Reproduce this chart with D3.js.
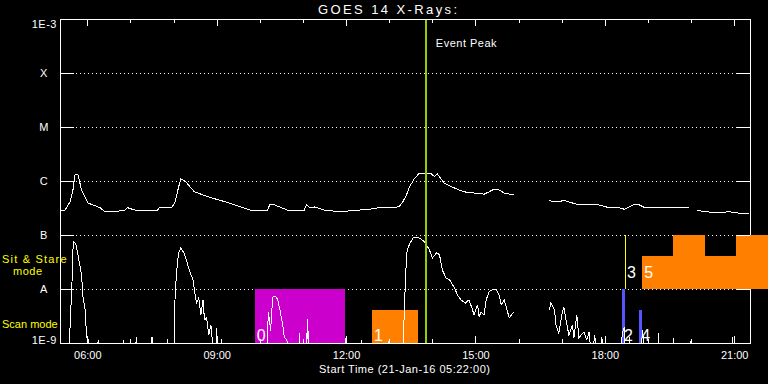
<!DOCTYPE html>
<html>
<head>
<meta charset="utf-8">
<script src="https://cdn.jsdelivr.net/npm/d3@7"></script>
<style>
    body { margin: 0; background: #000; }
    svg { display: block; background: #000; }
    text { font-family: "Liberation Sans", Arial, sans-serif; fill: #fff; }
</style>
</head>
<body>
<div id="chart"></div>
<script>
var chartDate = "2016-01-21";
var startTime = "05:22";
var endTime = "21:22";
var peakTime = "13:51";

var classLabels = ["1E-9", "A", "B", "C", "M", "X", "1E-3"];
var classFlux = [1e-9, 1e-8, 1e-7, 1e-6, 1e-5, 1e-4, 1e-3];

// GOES 1-8 A channel, W/m^2 (null = data gap)
var longChannel = [
    ["05:23", 2.8e-7], ["05:29", 2.9e-7], ["05:36", 4.1e-7], ["05:40", 6.8e-7], ["05:43", 1.3e-6],
    ["05:47", 1.3e-6], ["05:52", 6.8e-7], ["06:01", 3.9e-7], ["06:18", 3.2e-7], ["06:24", 2.7e-7],
    ["06:38", 2.7e-7], ["06:52", 2.9e-7], ["06:56", 3.2e-7], ["07:06", 2.9e-7], ["07:38", 2.9e-7],
    ["07:41", 3.3e-7], ["07:58", 3.3e-7], ["08:02", 4.1e-7], ["08:06", 6.8e-7], ["08:10", 1.1e-6],
    ["08:16", 1.0e-6], ["08:29", 6.3e-7], ["08:50", 5.0e-7], ["09:18", 3.9e-7], ["09:46", 2.9e-7],
    ["10:11", 2.9e-7], ["10:14", 3.7e-7], ["10:21", 3.6e-7], ["10:30", 3.2e-7], ["10:41", 2.8e-7],
    ["10:55", 2.8e-7], ["11:02", 2.9e-7], ["11:05", 3.7e-7], ["11:09", 3.2e-7], ["11:16", 3.3e-7],
    ["11:30", 2.9e-7], ["11:51", 2.7e-7], ["12:05", 2.8e-7], ["12:19", 2.9e-7], ["12:33", 3.0e-7],
    ["12:46", 3.2e-7], ["13:07", 3.2e-7], ["13:14", 3.4e-7], ["13:18", 3.9e-7], ["13:24", 5.5e-7],
    ["13:28", 7.7e-7], ["13:35", 1.1e-6], ["13:42", 1.4e-6], ["13:53", 1.4e-6], ["13:59", 1.35e-6],
    ["14:03", 1.2e-6], ["14:07", 1.35e-6], ["14:17", 9.0e-7], ["14:31", 7.4e-7], ["14:44", 6.3e-7],
    ["14:58", 6.0e-7], ["15:12", 5.7e-7], ["15:19", 6.3e-7], ["15:26", 7.1e-7], ["15:33", 6.8e-7],
    ["15:40", 6.0e-7], ["15:54", 5.5e-7], ["15:55", null], ["16:42", null], ["16:43", 4.3e-7],
    ["16:56", 4.1e-7], ["17:03", 4.4e-7], ["17:10", 4.1e-7], ["17:24", 3.6e-7], ["17:52", 3.6e-7],
    ["18:06", 3.2e-7], ["18:20", 3.2e-7], ["18:27", 3.0e-7], ["18:34", 3.3e-7], ["18:41", 3.7e-7],
    ["18:48", 3.6e-7], ["18:54", 3.3e-7], ["19:15", 3.3e-7], ["19:29", 3.2e-7], ["19:43", 3.2e-7],
    ["19:57", 3.2e-7], ["19:58", null], ["20:07", null], ["20:08", 2.9e-7], ["20:18", 2.7e-7],
    ["20:39", 2.6e-7], ["20:53", 2.7e-7], ["21:06", 2.55e-7], ["21:20", 2.5e-7]
];

// GOES 0.5-4 A channel, W/m^2 (values under 1E-9 fall below the plot)
var shortChannel = [
    ["05:22", 5e-10], ["05:34", 5e-10], ["05:36", 2.0e-9], ["05:39", 1.7e-8], ["05:40", 5.3e-8],
    ["05:41", 7.5e-8], ["05:44", 6.8e-8], ["05:47", 4.3e-8], ["05:52", 1.8e-8], ["05:54", 7.1e-9],
    ["05:57", 4.1e-9], ["05:59", 1.3e-9], ["06:02", 1.1e-9], ["06:04", 5e-10],
    ["06:14", 5e-10], ["06:15", 1.15e-9], ["06:16", 5e-10], ["06:49", 5e-10], ["06:50", 1.15e-9],
    ["06:51", 5e-10], ["07:07", 5e-10], ["07:08", 1.3e-9], ["07:09", 5e-10], ["07:29", 5e-10],
    ["07:30", 1.3e-9], ["07:31", 5e-10], ["07:51", 5e-10], ["07:52", 1.2e-9], ["07:53", 5e-10],
    ["08:01", 5e-10], ["08:02", 6.3e-9], ["08:04", 2.0e-8], ["08:07", 4.6e-8], ["08:10", 5.7e-8],
    ["08:14", 4.8e-8], ["08:18", 3.4e-8], ["08:22", 2.2e-8], ["08:27", 1.5e-8], ["08:29", 9.6e-9],
    ["08:32", 5.5e-9], ["08:35", 6.8e-9], ["08:38", 3.3e-9], ["08:41", 6.3e-9], ["08:43", 2.7e-9],
    ["08:46", 2.9e-9], ["08:49", 1.4e-9], ["08:52", 2.15e-9], ["08:54", 1.1e-9], ["08:56", 5e-10],
    ["08:59", 5e-10], ["09:00", 1.9e-9], ["09:01", 5e-10], ["09:06", 5e-10], ["09:07", 1.2e-9],
    ["09:08", 5e-10], ["10:09", 5e-10], ["10:12", 3.8e-9], ["10:15", 1.7e-9], ["10:18", 7.1e-9],
    ["10:22", 7.4e-9], ["10:25", 6.3e-9], ["10:28", 4.1e-9], ["10:32", 2.15e-9], ["10:34", 1.3e-9],
    ["10:39", 1.05e-9], ["10:41", 5e-10], ["10:54", 5e-10], ["10:55", 1.5e-9], ["10:56", 5e-10],
    ["11:05", 5e-10], ["11:06", 2.8e-9], ["11:07", 1.2e-9], ["11:08", 1.7e-9], ["11:09", 5e-10],
    ["11:59", 5e-10], ["12:00", 1.3e-9], ["12:01", 5e-10], ["12:21", 5e-10], ["12:22", 1.15e-9],
    ["12:23", 5e-10], ["12:58", 5e-10], ["12:59", 1.1e-9], ["13:00", 5e-10], ["13:19", 5e-10],
    ["13:20", 1.6e-9], ["13:23", 2.0e-8], ["13:25", 5.3e-8], ["13:29", 7.1e-8], ["13:34", 9.1e-8],
    ["13:42", 8.8e-8], ["13:49", 7.5e-8], ["13:56", 5.3e-8], ["14:00", 3.75e-8], ["14:06", 4.7e-8],
    ["14:10", 4.3e-8], ["14:14", 2.25e-8], ["14:19", 1.6e-8], ["14:24", 1.47e-8], ["14:26", 1.35e-8],
    ["14:31", 1.04e-8], ["14:35", 7.7e-9], ["14:40", 6.3e-9], ["14:46", 5.5e-9], ["14:51", 6.3e-9],
    ["14:56", 4.1e-9], ["14:58", 3.3e-9], ["15:03", 5.1e-9], ["15:05", 3.1e-9], ["15:08", 3.75e-9],
    ["15:12", 3.3e-9], ["15:15", 6.3e-9], ["15:19", 8.9e-9], ["15:23", 9.6e-9], ["15:29", 9.6e-9],
    ["15:33", 7.7e-9], ["15:36", 5.1e-9], ["15:40", 6.3e-9], ["15:44", 4.1e-9], ["15:47", 2.9e-9],
    ["15:50", 3.3e-9], ["15:54", 3.8e-9], ["15:55", null], ["16:42", null], ["16:43", 4.1e-9],
    ["16:45", 5.6e-9], ["16:50", 4.1e-9], ["16:52", 2.15e-9], ["16:56", 1.5e-9], ["17:01", 3.8e-9],
    ["17:03", 4.6e-9], ["17:06", 2.7e-9], ["17:10", 1.4e-9], ["17:15", 2.15e-9], ["17:17", 1.24e-9],
    ["17:21", 3.3e-9], ["17:24", 1.24e-9], ["17:27", 1.4e-9], ["17:31", 1.6e-9], ["17:35", 1.14e-9],
    ["17:38", 1.6e-9], ["17:42", 5e-10], ["17:46", 1.4e-9], ["17:49", 5e-10], ["17:55", 5e-10],
    ["17:56", 1.3e-9], ["17:57", 5e-10], ["18:23", 5e-10], ["18:24", 1.4e-9], ["18:27", 2.0e-9],
    ["18:29", 5e-10], ["18:33", 5e-10], ["18:34", 1.3e-9], ["18:36", 5e-10], ["18:51", 5e-10],
    ["18:52", 1.7e-9], ["18:54", 1.14e-9], ["18:56", 5e-10], ["19:14", 5e-10], ["19:15", 1.5e-9],
    ["19:16", 5e-10], ["19:35", 5e-10], ["19:36", 1.24e-9], ["19:37", 5e-10], ["19:59", 5e-10],
    ["20:00", 1.14e-9], ["20:01", 5e-10], ["20:57", 5e-10], ["20:58", 1.3e-9], ["20:59", 5e-10],
    ["21:22", 5e-10]
];

// observing modes: [event number, mode, start, end, level reached]
var modeBlocks = [
    [0, "scan", "09:53", "11:58", 1e-8],
    [1, "scan", "12:36", "13:40", 4.1e-9],
    [2, "scan", "18:24", "18:28", 1e-8],
    [3, "stare", "18:28", "18:29", 1e-7],
    [4, "scan", "18:48", "18:52", 4.1e-9],
    [5, "stare", "18:52", "19:35", 4.1e-8],
    [5, "stare", "19:35", "20:19", 1e-7],
    [5, "stare", "20:19", "21:02", 4.1e-8],
    [5, "stare", "21:02", "21:47", 1e-7]
];
var modeBase = {scan: 1e-9, stare: 1e-8};
var eventColors = ["#cc00cc", "#ff8000", "#5555ff", "#ffff00", "#5555ff", "#ff8000"];

var parseTime = d3.timeParse("%Y-%m-%d %H:%M");
function toDate(t) { return parseTime(chartDate + " " + t); }

var x = d3.scaleTime()
    .domain([toDate(startTime), toDate(endTime)])
    .range([60, 750]);
var y = d3.scaleLog()
    .domain([1e-9, 1e-3])
    .range([343, 19]);

var svg = d3.select("#chart")
    .append("svg")
    .attr("width", 768)
    .attr("height", 384)
    .attr("shape-rendering", "crispEdges");

svg.append("defs").append("clipPath")
    .attr("id", "plot-clip")
    .append("rect")
    .attr("x", 60).attr("y", 19)
    .attr("width", 690).attr("height", 325);

// dotted flare class levels
svg.append("g")
    .selectAll("line")
    .data(classFlux.slice(1, 6))
    .enter().append("line")
    .attr("x1", 76).attr("x2", 736)
    .attr("y1", function(d) { return Math.round(y(d)) + 0.5; })
    .attr("y2", function(d) { return Math.round(y(d)) + 0.5; })
    .attr("stroke", "#fff")
    .attr("stroke-dasharray", "1,3");

svg.append("rect")
    .attr("x", 60.5).attr("y", 19.5)
    .attr("width", 690).attr("height", 324)
    .attr("fill", "none")
    .attr("stroke", "#fff");

// mode blocks
svg.append("g")
    .selectAll("rect")
    .data(modeBlocks)
    .enter().append("rect")
    .attr("x", function(d) { return Math.round(x(toDate(d[2]))); })
    .attr("width", function(d) { return Math.max(1, Math.round(x(toDate(d[3])) - x(toDate(d[2])))); })
    .attr("y", function(d) { return Math.round(y(d[4])); })
    .attr("height", function(d) { return Math.round(y(modeBase[d[1]]) - y(d[4])); })
    .attr("fill", function(d) { return eventColors[d[0]]; });

function styleAxis(g) {
    g.attr("color", "#fff")
        .attr("font-family", "Liberation Sans, Arial, sans-serif")
        .attr("font-size", 11);
    g.select(".domain").remove();
}

// hour ticks, top and bottom
svg.append("g").attr("transform", "translate(0,19)")
    .call(d3.axisBottom(x).ticks(d3.timeHour.every(1)).tickSize(4).tickFormat(""))
    .call(styleAxis);
svg.append("g").attr("transform", "translate(0,19)")
    .call(d3.axisBottom(x).ticks(d3.timeHour.every(3)).tickSize(7).tickFormat(""))
    .call(styleAxis);
svg.append("g").attr("transform", "translate(0,343)")
    .call(d3.axisBottom(x).ticks(d3.timeHour.every(1)).tickSize(-4).tickFormat(""))
    .call(styleAxis);
svg.append("g").attr("transform", "translate(0,343)")
    .call(d3.axisBottom(x).ticks(d3.timeHour.every(3)).tickSize(-7).tickPadding(8)
        .tickFormat(d3.timeFormat("%H:%M")))
    .call(styleAxis);

// flare class axis
var yAxis = svg.append("g").attr("transform", "translate(60,0)")
    .call(d3.axisLeft(y).tickValues(classFlux).tickSize(-14)
        .tickFormat(function(d, i) { return classLabels[i]; }))
    .call(styleAxis);
yAxis.selectAll("text")
    .attr("text-anchor", function(d) { return d === 1e-9 || d === 1e-3 ? "end" : "middle"; })
    .attr("x", function(d) { return d === 1e-9 || d === 1e-3 ? -3 : -16; })
    .attr("dy", function(d) { return d === 1e-3 ? "0.73em" : d === 1e-9 ? "0.05em" : "0.34em"; })
    .style("letter-spacing", "0.5px");

svg.append("g").attr("transform", "translate(750,0)")
    .call(d3.axisRight(y).tickValues(classFlux.slice(1, 6)).tickSize(-14).tickFormat(""))
    .call(styleAxis);

// flux curves
var line = d3.line()
    .defined(function(d) { return d[1] !== null; })
    .x(function(d) { return x(toDate(d[0])); })
    .y(function(d) { return y(d[1]); });

var curves = svg.append("g").attr("clip-path", "url(#plot-clip)");
curves.append("path")
    .datum(longChannel)
    .attr("d", line)
    .attr("fill", "none")
    .attr("stroke", "#fff");
curves.append("path")
    .datum(shortChannel)
    .attr("d", line)
    .attr("fill", "none")
    .attr("stroke", "#fff");

// event peak marker
var px = x(toDate(peakTime));
svg.append("line")
    .attr("x1", px).attr("x2", px)
    .attr("y1", 20).attr("y2", 343)
    .attr("stroke", "#99cc00")
    .attr("stroke-width", 2);
svg.append("text")
    .attr("x", px + 10).attr("y", 47)
    .attr("font-size", 11)
    .style("letter-spacing", "0.5px")
    .text("Event Peak");

// event numbers
var firstBlocks = modeBlocks.filter(function(d, i) {
    return i === 0 || modeBlocks[i - 1][0] !== d[0];
});
svg.append("g")
    .selectAll("text")
    .data(firstBlocks)
    .enter().append("text")
    .attr("x", function(d) { return x(toDate(d[2])) + 2; })
    .attr("y", function(d) { return d[1] === "scan" ? 341 : 278; })
    .attr("font-size", 16)
    .text(function(d) { return d[0]; });

svg.append("text")
    .attr("x", 318).attr("y", 14)
    .attr("font-size", 13)
    .style("letter-spacing", "2.4px")
    .text("GOES 14 X-Rays:");

svg.append("text")
    .attr("x", 319).attr("y", 373)
    .attr("font-size", 11)
    .style("letter-spacing", "0.5px")
    .text("Start Time (21-Jan-16 05:22:00)");

var modeLabels = svg.append("g").style("fill", "#ffff00").attr("font-size", 11);
modeLabels.append("text").attr("x", 2).attr("y", 263).style("fill", "#ffff00")
    .style("letter-spacing", "1.2px").text("Sit & Stare");
modeLabels.append("text").attr("x", 13).attr("y", 275).style("fill", "#ffff00")
    .style("letter-spacing", "0.5px").text("mode");
modeLabels.append("text").attr("x", 2).attr("y", 328).style("fill", "#ffff00")
    .text("Scan mode");
</script>
</body>
</html>
